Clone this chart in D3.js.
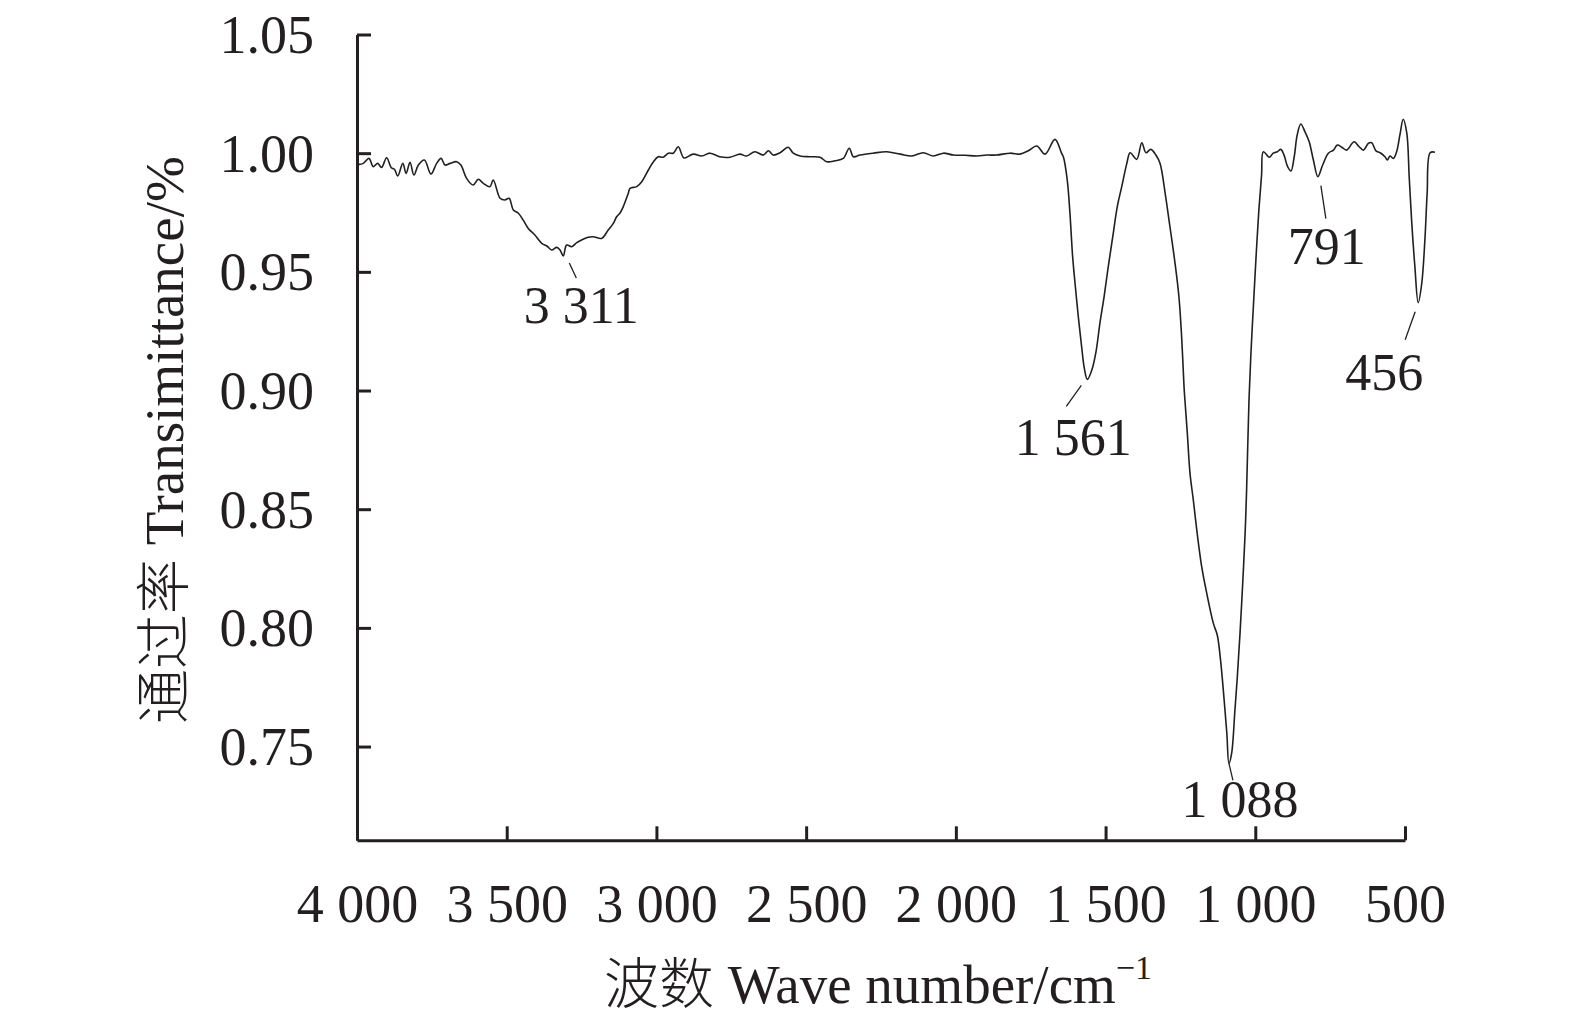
<!DOCTYPE html>
<html>
<head>
<meta charset="utf-8">
<script src="https://cdn.jsdelivr.net/npm/d3@7"></script>
<style>
  html, body { margin: 0; padding: 0; background: #ffffff; }
  svg { display: block; }
  text { font-family: "Liberation Serif", "Noto Sans CJK SC", serif; fill: #231f20; }
</style>
</head>
<body>
<svg id="chart" width="1575" height="1030"></svg>
<script>
// ---------------- data ----------------
const wavenumber = [4000,3996,3979,3960,3946,3931,3918,3901,3886,3875,3864,3847,3836,3823,3810,3795,3775,3753,3734,3719,3706,3689,3667,3653,3634,3612,3595,3578,3556,3545,3522,3506,3492,3478,3461,3445,3428,3406,3383,3366,3350,3333,3322,3311,3300,3283,3266,3250,3228,3211,3183,3161,3144,3133,3122,3111,3094,3088,3066,3049,3027,3010,2994,2977,2960,2944,2927,2908,2877,2849,2821,2788,2754,2721,2699,2671,2643,2626,2610,2587,2560,2543,2520,2487,2454,2431,2404,2376,2356,2342,2320,2276,2231,2186,2147,2109,2075,2042,2008,1969,1930,1897,1864,1819,1786,1758,1730,1702,1669,1647,1641,1628,1619,1610,1602,1591,1580,1571,1561,1546,1532,1519,1505,1491,1476,1461,1446,1429,1418,1396,1379,1365,1349,1332,1318,1301,1285,1268,1255,1246,1238,1235,1227,1218,1207,1194,1179,1162,1140,1127,1116,1104,1095,1088,1079,1068,1060,1051,1042,1034,1029,1021,1014,1007,998,988,979,973,953,940,926,915,904,892,881,870,860,848,834,820,806,791,775,756,739,726,711,695,670,653,639,622,611,597,583,567,559,550,539,528,517,506,494,486,478,467,456,444,433,426,416,400];
const transmittance = [0.9955,0.9953,0.9957,0.9978,0.9943,0.9957,0.9940,0.9981,0.9940,0.9932,0.9904,0.9957,0.9915,0.9962,0.9908,0.9950,0.9971,0.9912,0.9957,0.9978,0.9950,0.9957,0.9964,0.9950,0.9894,0.9866,0.9890,0.9873,0.9859,0.9887,0.9810,0.9803,0.9810,0.9761,0.9747,0.9718,0.9683,0.9655,0.9620,0.9609,0.9592,0.9603,0.9592,0.9567,0.9613,0.9606,0.9623,0.9634,0.9646,0.9648,0.9641,0.9676,0.9704,0.9732,0.9747,0.9774,0.9831,0.9852,0.9859,0.9880,0.9929,0.9964,0.9985,0.9983,1.0000,1.0000,1.0027,0.9980,0.9996,0.9988,1.0000,0.9985,0.9983,0.9996,0.9988,1.0006,0.9992,1.0010,0.9992,1.0002,1.0025,1.0000,0.9988,0.9985,0.9983,0.9964,0.9968,0.9978,1.0021,0.9985,0.9992,1.0000,1.0006,0.9996,0.9988,1.0002,0.9988,1.0000,0.9992,0.9991,0.9988,0.9992,0.9992,1.0000,0.9996,1.0010,1.0030,0.9996,1.0058,1.0000,0.9985,0.9887,0.9747,0.9564,0.9452,0.9311,0.9185,0.9094,0.9047,0.9086,0.9163,0.9283,0.9395,0.9522,0.9648,0.9774,0.9859,0.9957,1.0002,0.9974,1.0044,1.0002,1.0016,0.9992,0.9957,0.9831,0.9690,0.9536,0.9395,0.9227,0.9016,0.8960,0.8820,0.8651,0.8539,0.8398,0.8258,0.8145,0.8019,0.7970,0.7864,0.7696,0.7556,0.7429,0.7471,0.7654,0.7794,0.7977,0.8188,0.8398,0.8581,0.8960,0.9171,0.9339,0.9550,0.9761,0.9908,1.0006,0.9983,1.0000,1.0006,1.0016,0.9992,0.9943,0.9925,0.9985,1.0077,1.0123,1.0090,1.0048,0.9971,0.9901,0.9950,1.0000,1.0013,1.0034,1.0025,1.0013,1.0048,1.0027,1.0013,1.0042,1.0044,1.0010,1.0002,0.9985,0.9971,0.9988,0.9978,1.0006,1.0077,1.0143,1.0084,0.9901,0.9718,0.9522,0.9370,0.9452,0.9648,0.9831,1.0002,1.0004];

const xTickValues = [4000,3500,3000,2500,2000,1500,1000,500];
const xTickLabels = ["4 000","3 500","3 000","2 500","2 000","1 500","1 000","500"];
const yTickValues = [1.05,1.00,0.95,0.90,0.85,0.80,0.75];
const yTickLabels = ["1.05","1.00","0.95","0.90","0.85","0.80","0.75"];

const peakWavenumbers = [3311, 1561, 1088, 791, 456];
const peakValues = [0.9567, 0.9047, 0.7429, 0.9901, 0.9370];
const peakLabels = ["3 311", "1 561", "1 088", "791", "456"];

const xTitleCn = "波数";
const xTitleEn = "Wave number/cm";
const xTitleSup = "−1";
const yTitleCn = "通过率";
const yTitleEn = "Transimittance/%";

// ---------------- layout (styles) ----------------
const ink = "#231f20";
// leader offsets [x1,y1,x2,y2] and label offset [dx, dy] relative to the peak point
const leaderStyle = [
  {l:[6,7,13,22],   t:[18,67]},
  {l:[-6,6,-21,27], t:[-14,76]},
  {l:[0,0,4,17],    t:[11,54]},
  {l:[3,9,8,42],    t:[9,87]},
  {l:[-3,9,-13,37], t:[-34,87]}
];

const svg = d3.select("#chart");
svg.append("rect").attr("width",1575).attr("height",1030).attr("fill","#fff");

const x = d3.scaleLinear().domain([4000, 500]).range([357, 1405]);
const y = d3.scaleLinear().domain([0.7105, 1.05]).range([840.3, 34.5]);

// axes
const xAxis = d3.axisBottom(x).tickValues(xTickValues).tickSize(-14).tickSizeOuter(0)
  .tickFormat((d,i) => xTickLabels[i]).tickPadding(0);
const gx = svg.append("g").attr("transform", `translate(0,${y.range()[0]})`).call(xAxis);
gx.select(".domain").attr("stroke", ink).attr("stroke-width", 3);
gx.selectAll(".tick line").attr("stroke", ink).attr("stroke-width", 3);
gx.selectAll(".tick text").attr("y", 82).attr("dy", 0)
  .attr("font-size", 54).attr("fill", ink)
  .style("font-family", "'Liberation Serif', serif");

const yAxis = d3.axisLeft(y).tickValues(yTickValues).tickSize(-14).tickSizeOuter(0)
  .tickFormat((d,i) => yTickLabels[i]);
const gy = svg.append("g").attr("transform", `translate(${x.range()[0]},0)`).call(yAxis);
gy.select(".domain").attr("stroke", ink).attr("stroke-width", 3);
gy.selectAll(".tick line").attr("stroke", ink).attr("stroke-width", 3);
gy.selectAll(".tick text").attr("x", -43).attr("dy", 18)
  .attr("font-size", 54).attr("fill", ink)
  .style("font-family", "'Liberation Serif', serif");

// spectrum
const pts = wavenumber.map((w, i) => [w, transmittance[i]]);
const line = d3.line().x(d => x(d[0])).y(d => y(d[1])).curve(d3.curveCatmullRom.alpha(0.5));
svg.append("path").datum(pts).attr("d", line)
  .attr("fill", "none").attr("stroke", ink).attr("stroke-width", 1.6)
  .attr("stroke-linejoin", "round");

// peak annotations
peakWavenumbers.forEach((w, i) => {
  const px = x(w), py = y(peakValues[i]);
  const s = leaderStyle[i];
  svg.append("line")
    .attr("x1", px + s.l[0]).attr("y1", py + s.l[1])
    .attr("x2", px + s.l[2]).attr("y2", py + s.l[3])
    .attr("stroke", ink).attr("stroke-width", 1.3);
  svg.append("text")
    .attr("x", px + s.t[0]).attr("y", py + s.t[1])
    .attr("text-anchor", "middle").attr("font-size", 52)
    .style("font-family", "'Liberation Serif', serif")
    .text(peakLabels[i]);
});

// axis titles
const xt = svg.append("text").attr("x", 604).attr("y", 1003).attr("font-size", 55);
xt.append("tspan").style("font-family", "'Noto Sans CJK SC', sans-serif").attr("font-weight", 300).text(xTitleCn);
xt.append("tspan").style("font-family", "'Liberation Serif', serif").text(" " + xTitleEn);
xt.append("tspan").style("font-family", "'Liberation Serif', serif")
  .attr("font-size", 34).attr("dy", -24).text(xTitleSup);

const yt = svg.append("text").attr("transform", "translate(183,724) rotate(-90)").attr("font-size", 55);
yt.append("tspan").style("font-family", "'Noto Sans CJK SC', sans-serif").attr("font-weight", 300).text(yTitleCn);
yt.append("tspan").style("font-family", "'Liberation Serif', serif").text(" " + yTitleEn);
</script>
</body>
</html>
